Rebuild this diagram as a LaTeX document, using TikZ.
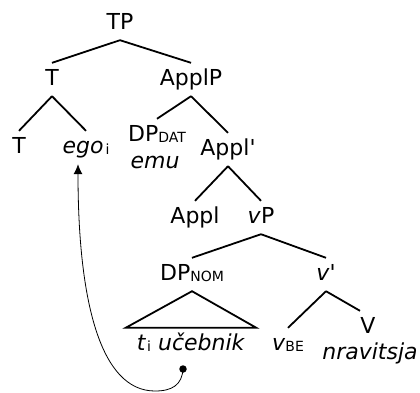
\documentclass[tikz,border=0pt]{standalone}
\usepackage{fontspec}
\setmainfont{DejaVu Sans}
\usetikzlibrary{arrows.meta}
\newcommand{\sbs}[1]{\raisebox{-1pt}{\fontsize{14}{14}\selectfont #1}}
\begin{document}
\begin{tikzpicture}[x=1pt,y=-1pt,
  lab/.style={font=\fontsize{22}{24}\selectfont, anchor=base, inner xsep=2pt, inner ysep=7pt, text height=15pt, text depth=4pt},
  br/.style={line width=1.8pt},
  mv/.style={line width=0.8pt}]
\useasboundingbox (0,0) rectangle (420,392);
% nodes
\node[lab] (TP) at (120,29) {TP};
\node[lab] (T) at (52,85) {T};
\node[lab] (ApplP) at (191,85) {ApplP};
\node[lab] (Th) at (19,153) {T};
\node[lab] (ego) at (86,153) {\textit{ego}\kern2pt\sbs{i}};
\node[lab] (DPD) at (157,141) {DP\sbs{DAT}};
\node[lab, inner ysep=0pt] (emu) at (155,168) {\textit{emu}};
\node[lab] (Applb) at (228,155) {Appl\textquotesingle};
\node[lab] (Appl) at (195,223) {Appl};
\node[lab] (vP) at (261,223) {\textit{v}P};
\node[lab] (DPN) at (192,280) {DP\sbs{NOM}};
\node[lab] (vb) at (326,280) {\textit{v}\textquotesingle};
\node[lab, inner xsep=11pt] (tu) at (191,350) {\textit{t}\kern1pt\sbs{i} \textit{učebnik}};
\node[lab] (vBE) at (288,350) {\textit{v}\sbs{BE}};
\node[lab] (V) at (368,333) {V};
\node[lab, inner ysep=0pt] (nrav) at (370,359) {\textit{nravitsja}};
\node[circle, fill, inner sep=0pt, minimum size=7.5pt] (dot) at (183,369) {};
% branches
\draw[br] (TP.south) -- (T.north);
\draw[br] (TP.south) -- (ApplP.north);
\draw[br] (T.south) -- (Th.north);
\draw[br] (T.south) -- (ego.north);
\draw[br] (ApplP.south) -- (DPD.north);
\draw[br] (ApplP.south) -- (Applb.north);
\draw[br] (Applb.south) -- (Appl.north);
\draw[br] (Applb.south) -- (vP.north);
\draw[br] (vP.south) -- (DPN.north);
\draw[br] (vP.south) -- (vb.north);
\draw[br] (DPN.south) -- (tu.north west) -- (tu.north east) -- cycle;
\draw[br] (vb.south) -- (vBE.north);
\draw[br] (vb.south) -- ([xshift=-8pt]V.north);
% movement arrow
\draw[mv, -{Latex[length=10pt,width=9pt]}] (dot.center) .. controls (182,385) and (172,391) .. (155,391)
  .. controls (100,391) and (78,300) .. ([xshift=-8pt]ego.south);
\end{tikzpicture}
\end{document}
